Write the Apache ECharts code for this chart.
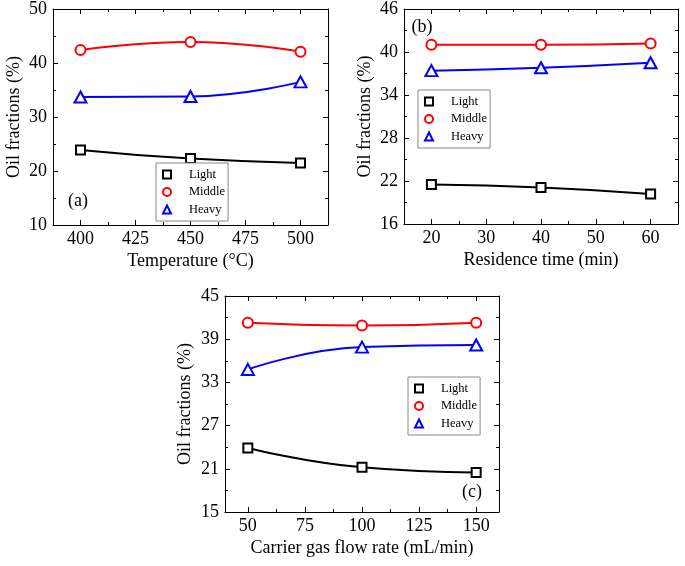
<!DOCTYPE html>
<html>
<head>
<meta charset="utf-8">
<script src="https://cdn.jsdelivr.net/npm/echarts@6/dist/echarts.min.js"></script>
<style>html,body{margin:0;padding:0;background:#fff}#c{width:685px;height:566px}</style>
</head>
<body>
<div id="c"></div>
<script>
// ---- data ----
const temperatures = [400, 450, 500];
const tempLight = [23.9, 22.3, 21.5];
const tempMiddle = [42.4, 43.9, 42.1];
const tempHeavy = [33.7, 33.8, 36.5];

const residenceTimes = [20, 40, 60];
const resLight = [21.5, 21.1, 20.2];
const resMiddle = [41.0, 41.0, 41.2];
const resHeavy = [37.4, 37.8, 38.5];

const flowRates = [50, 100, 150];
const flowLight = [23.9, 21.2, 20.5];
const flowMiddle = [41.3, 40.9, 41.3];
const flowHeavy = [34.8, 37.9, 38.2];

// tick labels
const tempTicks = [400, 425, 450, 475, 500];
const resTicks = [20, 30, 40, 50, 60];
const flowTicks = [50, 75, 100, 125, 150];
const yTicksA = [10, 20, 30, 40, 50];
const yTicksB = [16, 22, 28, 34, 40, 46];
const yTicksC = [15, 21, 27, 33, 39, 45];

const seriesNames = ['Light', 'Middle', 'Heavy'];

// ---- styling ----
const FONT = 'Liberation Serif, Times New Roman, serif';
const colors = ['#000000', '#ff0000', '#0000ff'];
const symbols = ['emptyRect', 'emptyCircle', 'emptyTriangle'];
const symbolSizes = [9, 10, [12, 11]];

function minors(majors, min, max) {
  const step = majors[1] - majors[0];
  const out = [];
  const first = majors[0] - step / 2;
  if (first >= min) out.push(first);
  majors.forEach(v => { const m = v + step / 2; if (m <= max) out.push(m); });
  return out;
}

function axesFor(dim, gridIndex, min, max, majors, name, nameGap, labelMargin) {
  const posA = dim === 'x' ? 'bottom' : 'left';
  const posB = dim === 'x' ? 'top' : 'right';
  const mins = minors(majors, min, max);
  const common = {type: 'value', gridIndex, min, max, splitLine: {show: false}};
  const line = {show: true, lineStyle: {color: '#000', width: 1}};
  const res = [];
  [posA, posB].forEach((pos, k) => {
    res.push(Object.assign({}, common, {
      position: pos,
      axisLine: line,
      axisTick: {show: true, inside: true, length: 5, customValues: majors, lineStyle: {color: '#000', width: 1}},
      axisLabel: k === 0 ? {show: true, customValues: majors, fontFamily: FONT, fontSize: 18, color: '#000', margin: labelMargin} : {show: false},
      name: k === 0 ? name : '',
      nameLocation: 'middle',
      nameGap: nameGap,
      nameRotate: dim === 'y' ? 90 : 0,
      nameTextStyle: {fontFamily: FONT, fontSize: 18, color: '#000'}
    }));
    res.push(Object.assign({}, common, {
      position: pos,
      axisLine: {show: false},
      axisTick: {show: true, inside: true, length: 3, customValues: mins, lineStyle: {color: '#000', width: 1}},
      axisLabel: {show: false}
    }));
  });
  return res;
}

const grids = [
  {left: 53, top: 8, width: 275, height: 217},
  {left: 404, top: 8, width: 274, height: 216},
  {left: 225, top: 296, width: 274, height: 216}
];

const xAxes = [].concat(
  axesFor('x', 0, 387.5, 512.5, tempTicks, 'Temperature (°C)', 27, 5),
  axesFor('x', 1, 15, 65, resTicks, 'Residence time (min)', 27, 5),
  axesFor('x', 2, 40, 160, flowTicks, 'Carrier gas flow rate (mL/min)', 27, 5)
);
const yAxes = [].concat(
  axesFor('y', 0, 10, 50, yTicksA, 'Oil fractions (%)', 30, 6),
  axesFor('y', 1, 16, 46, yTicksB, 'Oil fractions (%)', 30, 6),
  axesFor('y', 2, 15, 45, yTicksC, 'Oil fractions (%)', 31, 6)
);

const panels = [
  {x: temperatures, ys: [tempLight, tempMiddle, tempHeavy]},
  {x: residenceTimes, ys: [resLight, resMiddle, resHeavy]},
  {x: flowRates, ys: [flowLight, flowMiddle, flowHeavy]}
];

const series = [];
panels.forEach((p, g) => {
  p.ys.forEach((vals, i) => {
    series.push({
      type: 'line',
      name: seriesNames[i],
      xAxisIndex: 4 * g,
      yAxisIndex: 4 * g,
      data: p.x.map((xv, j) => [xv, vals[j]]),
      smooth: 0.5,
      symbol: symbols[i],
      symbolSize: symbolSizes[i],
      showAllSymbol: true,
      lineStyle: {color: colors[i], width: 2},
      itemStyle: {color: colors[i], borderColor: colors[i], borderWidth: 1.5},
      emphasis: {disabled: true},
      animation: false
    });
  });
});

function legendAt(left, top) {
  return {
    orient: 'vertical',
    left, top,
    data: seriesNames,
    backgroundColor: '#fff',
    borderColor: '#888',
    borderWidth: 1,
    borderRadius: 0,
    padding: [5, 3, 5, 2],
    itemGap: 4.5,
    itemWidth: 16,
    itemHeight: 10,
    lineStyle: {opacity: 0},
    selectedMode: false,
    textStyle: {fontFamily: FONT, fontSize: 12.5, color: '#000', padding: [0, 0, 0, 9]}
  };
}

const option = {
  backgroundColor: '#fff',
  animation: false,
  grid: grids,
  xAxis: xAxes,
  yAxis: yAxes,
  legend: [legendAt(156, 163), legendAt(418, 90), legendAt(408, 377)],
  series,
  graphic: [
    {type: 'text', x: 78, y: 201, style: {text: '(a)', font: '18px ' + FONT, fill: '#000', align: 'center', verticalAlign: 'middle'}},
    {type: 'text', x: 422, y: 27, style: {text: '(b)', font: '18px ' + FONT, fill: '#000', align: 'center', verticalAlign: 'middle'}},
    {type: 'text', x: 472, y: 492, style: {text: '(c)', font: '18px ' + FONT, fill: '#000', align: 'center', verticalAlign: 'middle'}}
  ]
};

const chart = echarts.init(document.getElementById('c'), null, {renderer: 'canvas'});
chart.setOption(option);
</script>
</body>
</html>
